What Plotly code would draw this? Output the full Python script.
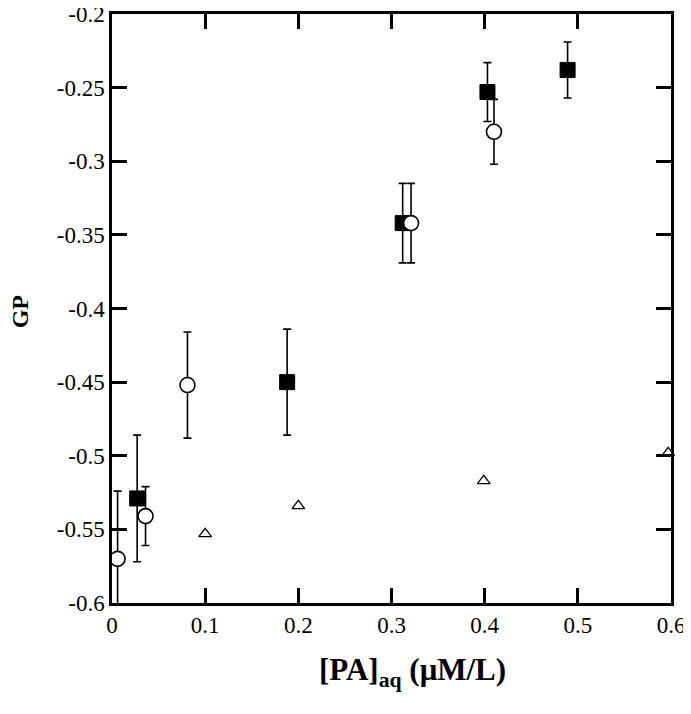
import plotly.graph_objects as go

# Filled squares
sq_x = [0.027, 0.188, 0.312, 0.403, 0.489]
sq_y = [-0.529, -0.450, -0.342, -0.253, -0.238]
sq_err = [0.043, 0.036, 0.027, 0.020, 0.019]

# Open circles
ci_x = [0.006, 0.036, 0.081, 0.321, 0.410]
ci_y = [-0.570, -0.541, -0.452, -0.342, -0.280]
ci_err = [0.046, 0.020, 0.036, 0.027, 0.022]

# Open triangles
tr_x = [0.100, 0.200, 0.399, 0.597]
tr_y = [-0.553, -0.534, -0.517, -0.498]

x_ticks = [0, 0.1, 0.2, 0.3, 0.4, 0.5, 0.6]
x_labels = ["0", "0.1", "0.2", "0.3", "0.4", "0.5", "0.6"]
y_ticks = [-0.6, -0.55, -0.5, -0.45, -0.4, -0.35, -0.3, -0.25, -0.2]
y_labels = ["-0.6", "-0.55", "-0.5", "-0.45", "-0.4", "-0.35", "-0.3", "-0.25", "-0.2"]

fig = go.Figure()
eb = dict(type="data", thickness=1.6, width=4, color="black")
fig.add_trace(go.Scatter(x=sq_x, y=sq_y, mode="markers",
                         error_y=dict(array=sq_err, **eb),
                         marker=dict(symbol="square", size=15, color="black",
                                     line=dict(color="black", width=1)),
                         cliponaxis=False, showlegend=False))
fig.add_trace(go.Scatter(x=ci_x, y=ci_y, mode="markers",
                         error_y=dict(array=ci_err, **eb),
                         marker=dict(symbol="circle", size=15, color="white",
                                     line=dict(color="black", width=1.6)),
                         cliponaxis=True, showlegend=False))
fig.add_trace(go.Scatter(x=tr_x, y=tr_y, mode="markers",
                         marker=dict(symbol="triangle-up", size=11, color="white",
                                     line=dict(color="black", width=1.3)),
                         cliponaxis=False, showlegend=False))

font = "Liberation Serif, Times New Roman, serif"
axis_common = dict(showgrid=False, zeroline=False, showline=True, linecolor="black",
                   linewidth=2.5, mirror="ticks", ticks="inside", ticklen=15,
                   tickwidth=2.5, tickcolor="black", automargin=False,
                   ticklabeloverflow="allow",
                   tickfont=dict(family=font, size=23, color="black"))
fig.update_xaxes(range=[0, 0.6], tickvals=x_ticks, ticktext=x_labels, **axis_common)
fig.update_yaxes(range=[-0.6, -0.2], tickvals=y_ticks, ticktext=y_labels, **axis_common)
fig.add_annotation(text="<b>[PA]<sub>aq</sub> (μM/L)</b>", xref="paper", yref="paper",
                   x=0.537, y=-0.117, xanchor="center", yanchor="middle", showarrow=False,
                   font=dict(family=font, size=31, color="black"))
fig.add_annotation(text="<b>GP</b>", xref="paper", yref="paper", textangle=-90,
                   x=-0.163, y=0.495, xanchor="center", yanchor="middle", showarrow=False,
                   font=dict(family=font, size=24, color="black"))
fig.update_layout(width=683, height=698, plot_bgcolor="white", paper_bgcolor="white",
                  margin=dict(l=104, r=20, t=6, b=103))
fig.write_html("out.html")
